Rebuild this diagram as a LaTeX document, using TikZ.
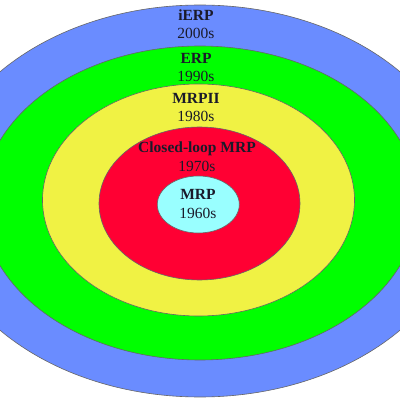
\documentclass[tikz,border=0pt]{standalone}
\usepackage{fontspec}
\setmainfont{Liberation Serif}
\usepackage{xcolor}
\definecolor{RingBlue}{HTML}{6A8CFF}
\definecolor{RingGreen}{HTML}{00FF00}
\definecolor{RingYellow}{HTML}{F0F244}
\definecolor{RingRed}{HTML}{FF0033}
\definecolor{RingCyan}{HTML}{99FFFF}
\definecolor{LabelInk}{HTML}{1A1A2A}
\tikzset{
  ring/.style={draw=black!60, line width=0.6pt},
  era/.style={align=center, text=LabelInk, inner sep=0pt,
    font=\fontsize{15.5}{18.5}\selectfont},
}

\begin{document}
\begin{tikzpicture}[x=1pt, y=1pt]
    \useasboundingbox (0,0) rectangle (400,400);
    \clip (0,0) rectangle (400,400);
    \fill[white] (0,0) rectangle (400,400);
    % rings, outermost first
    \filldraw[ring, fill=RingBlue] (200,199) ellipse [x radius=266pt, y radius=196pt];
    \filldraw[ring, fill=RingGreen] (200,197) ellipse [x radius=218pt, y radius=157pt];
    \filldraw[ring, fill=RingYellow] (198.5,200) ellipse [x radius=156pt, y radius=116pt];
    \filldraw[ring, fill=RingRed] (199.5,196.5) ellipse [x radius=100.5pt, y radius=76.5pt];
    \filldraw[ring, fill=RingCyan] (198.3,195.5) ellipse [x radius=41pt, y radius=28.5pt];
    % labels
    \node[era] (ierp) at (196,376) {\textbf{iERP}\\2000s};
    \node[era] (erp) at (196,332.5) {\textbf{ERP}\\1990s};
    \node[era] (mrpii) at (196,292.5) {\textbf{MRPII}\\1980s};
    \node[era] (closed) at (197,243.5) {\textbf{Closed-loop MRP}\\1970s};
    \node[era] (mrp) at (198,196) {\textbf{MRP}\\1960s};
\end{tikzpicture}
\end{document}
